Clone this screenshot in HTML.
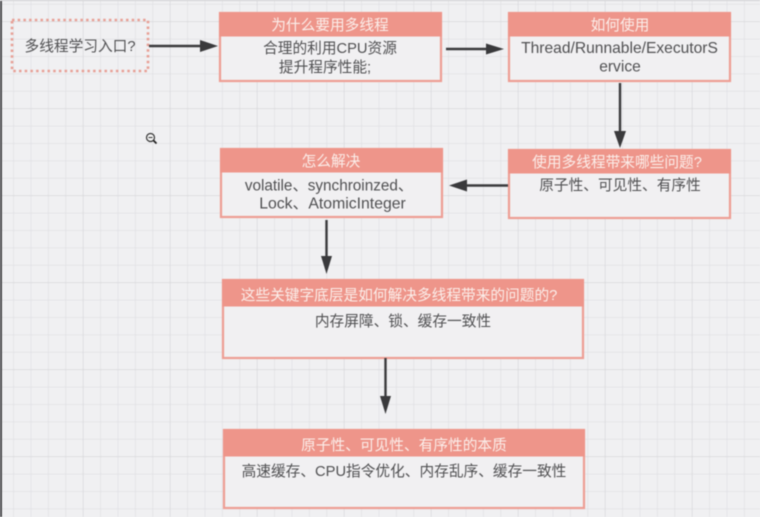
<!DOCTYPE html>
<html><head><meta charset="utf-8"><style>
html,body{margin:0;padding:0;background:#f0f0f2;width:760px;height:517px;overflow:hidden}
svg{display:block;filter:blur(.5px)}
text{font-family:"Liberation Sans","Noto Sans CJK SC",sans-serif;font-size:14.7px;text-anchor:middle;fill:#505052}
text.l{font-size:15.6px}
.h{fill:#fbeeea}
.hd{fill:#ee958a}
.bd{fill:#f1f0f2;stroke:#ee9e94;stroke-width:2.2}
.c{stroke:#3a3a3c;stroke-width:2.4;fill:none}
.a{fill:#3a3a3c}
</style></head><body>
<svg width="760" height="517" viewBox="0 0 760 517" xmlns="http://www.w3.org/2000/svg">
<defs>
<pattern id="g" x="-3.5" y="-12.8" width="17.4" height="17.4" patternUnits="userSpaceOnUse"><path d="M17.4 0V17.4M0 17.4H17.4" stroke="#dedee2" stroke-width="1.2" fill="none"/></pattern>
<pattern id="G" x="-3.5" y="22" width="87" height="87" patternUnits="userSpaceOnUse"><path d="M87 0V87M0 87H87" stroke="#d6d6d9" stroke-width="1.2" fill="none"/></pattern>
</defs>
<rect width="760" height="517" fill="#f0f0f2"/>
<rect width="760" height="517" fill="url(#g)"/>
<rect width="760" height="517" fill="url(#G)"/>
<rect x="0" y="0" width="2" height="517" fill="#4a4a4c"/>
<rect x="0" y="0" width="760" height="1" fill="#d0d0d2"/>

<rect x="12" y="20" width="136" height="51" fill="none" stroke="#e89f95" stroke-width="2.6" stroke-dasharray="2.5 3.2"/>
<text x="80" y="51">多线程学习入口?</text>

<rect x="220" y="13" width="221" height="68" class="bd"/>
<rect x="219" y="12" width="223" height="24.500" class="hd"/>
<text class="h" x="330" y="30">为什么要用多线程</text>
<text x="330" y="53">合理的利用CPU资源</text>
<text x="325" y="72">提升程序性能;</text>

<rect x="509" y="13" width="221" height="68" class="bd"/>
<rect x="508" y="12" width="223" height="24.500" class="hd"/>
<text class="h" x="620" y="30">如何使用</text>
<text class="l" x="619.500" y="53">Thread/Runnable/ExecutorS</text>
<text class="l" x="620" y="71.500">ervice</text>

<rect x="509" y="150" width="221" height="68" class="bd"/>
<rect x="508" y="149" width="223" height="24.500" class="hd"/>
<text class="h" x="617" y="167">使用多线程带来哪些问题?</text>
<text x="620" y="190">原子性、可见性、有序性</text>

<rect x="221" y="149" width="221" height="68" class="bd"/>
<rect x="220" y="148" width="223" height="24.500" class="hd"/>
<text class="h" x="331" y="166">怎么解决</text>
<text x="329" y="190.500" style="font-size:15.300px">volatile、synchroinzed、</text>
<text x="332.500" y="208.500" style="font-size:15.800px">Lock、AtomicInteger</text>

<rect x="223" y="280" width="360" height="78" class="bd"/>
<rect x="222" y="279" width="362" height="27.500" class="hd"/>
<text class="h" x="399" y="300">这些关键字底层是如何解决多线程带来的问题的?</text>
<text x="403" y="326">内存屏障、锁、缓存一致性</text>

<rect x="224" y="430" width="360" height="78" class="bd"/>
<rect x="223" y="429" width="362" height="27.500" class="hd"/>
<text class="h" x="404" y="450">原子性、可见性、有序性的本质</text>
<text x="404" y="476">高速缓存、CPU指令优化、内存乱序、缓存一致性</text>

<path class="c" d="M149 46H202"/><polygon class="a" points="200,40 218,46 200,52"/>
<path class="c" d="M446 49H488"/><polygon class="a" points="486,43.500 504,49 486,54.500"/>
<path class="c" d="M620 83V134"/><polygon class="a" points="614,131 626,131 620,148"/>
<path class="c" d="M508 185.500H465"/><polygon class="a" points="467,179.500 449,185.500 467,191.500"/>
<path class="c" d="M326.500 220V258"/><polygon class="a" points="321,256 332,256 326.500,274"/>
<path class="c" d="M385.500 358V398"/><polygon class="a" points="380,396 391,396 385.500,414"/>

<circle cx="150.500" cy="137.500" r="4" fill="#f4f4f4" stroke="#333" stroke-width="1.2"/>
<path d="M148.500 137.500H152.500" stroke="#333" stroke-width="1"/>
<path d="M153.500 140.500L156.500 143.500" stroke="#222" stroke-width="1.800"/>
</svg>
</body></html>
